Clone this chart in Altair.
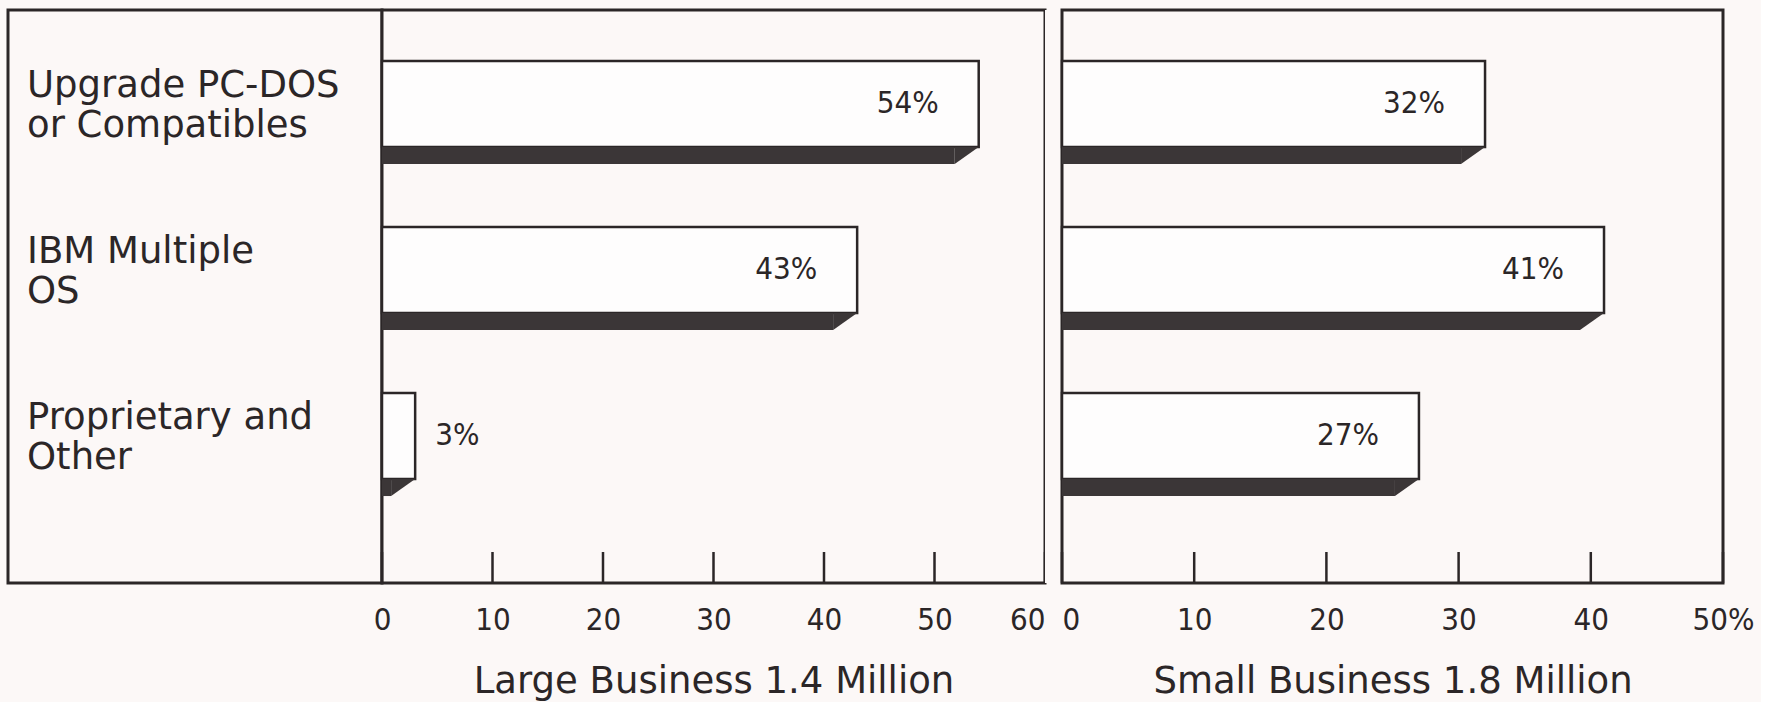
import altair as alt
import pandas as pd

# ---- data ----
categories = ["Upgrade PC-DOS\nor Compatibles", "IBM Multiple\nOS", "Proprietary and\nOther"]
large_values = [54, 43, 3]
small_values = [32, 41, 27]
large_ticks = [0, 10, 20, 30, 40, 50, 60]
small_ticks = [0, 10, 20, 30, 40, 50]
large_title = "Large Business 1.4 Million"
small_title = "Small Business 1.8 Million"

# ---- styles ----
INK = "#2b2627"
SHADE = "#3b3637"
BG = "#fcf8f7"
FACE = "#fefdfd"
TEXT_FONT = "DejaVu Sans"
NUM_FONT = "'DejaVu Sans Condensed', 'Liberation Sans Narrow', 'DejaVu Sans'"

H = 573
LABEL_W = 374
LEFT_W = 663
GAP_W = 17
RIGHT_W = 661
FACE_H = 86
SHADOW_H = 17
BEVEL = 24
FACE_OFF = -8.5
SHADOW_OFF = 43
NUM_SIZE = 31
TEXT_SIZE = 37
LINE_H = 40

df = pd.DataFrame({"cat": categories, "large": large_values, "small": small_values})

yscale = alt.Scale(type="band", domain=categories, paddingInner=0.38, paddingOuter=0.416, align=0.37)
Y = alt.Y("cat:N", scale=yscale, axis=None, sort=categories)

tri_path = "M -1 -0.708 L 1 -0.708 L -1 0.708 Z"


def panel(field, maxv, ticks, title, width, pct_at):
    base = alt.Chart(df)
    xscale = alt.Scale(domain=[0, maxv], nice=False, zero=True)
    if pct_at is None:
        label_align = {"condition": {"test": f"datum.value == {maxv}", "value": "right"}, "value": "center"}
        label_expr = "datum.label"
    else:
        label_align = {"condition": {"test": "datum.value == 0", "value": "left"}, "value": "center"}
        label_expr = f"datum.value == {pct_at} ? '{pct_at}%' : datum.label"
    axis = alt.Axis(
        values=ticks, domain=False, ticks=False, grid=False,
        labelFont=NUM_FONT, labelFontSize=NUM_SIZE, labelColor=INK, labelPadding=22,
        labelAlign=label_align, labelExpr=label_expr,
        title=title, titleFont=TEXT_FONT, titleFontSize=TEXT_SIZE, titleFontWeight="normal",
        titleColor=INK, titlePadding=28,
    )
    face = base.mark_bar(height=FACE_H, yOffset=FACE_OFF, fill=FACE, stroke=INK, strokeWidth=2.5).encode(
        x=alt.X(f"{field}:Q", scale=xscale, axis=axis),
        x2=alt.datum(0),
        y=Y,
    )
    shadow = base.mark_bar(height=SHADOW_H, yOffset=SHADOW_OFF, xOffset=-BEVEL, fill=SHADE, strokeWidth=0).encode(
        x=alt.X(f"{field}:Q", scale=xscale),
        x2=alt.datum(0),
        y=Y,
    )
    tri = base.mark_point(shape=tri_path, size=(2 * 12) ** 2, filled=True, fill=SHADE, opacity=1,
                          strokeWidth=0, xOffset=-BEVEL / 2, yOffset=SHADOW_OFF).encode(
        x=alt.X(f"{field}:Q", scale=xscale),
        y=Y,
    )
    txt_in = base.transform_filter(f"datum.{field} >= 10").transform_calculate(
        lbl=f"datum.{field} + '%'"
    ).mark_text(align="right", baseline="middle", dx=-40, yOffset=FACE_OFF, font=NUM_FONT,
                fontSize=NUM_SIZE, color=INK).encode(
        x=alt.X(f"{field}:Q", scale=xscale), y=Y, text="lbl:N"
    )
    txt_out = base.transform_filter(f"datum.{field} < 10").transform_calculate(
        lbl=f"datum.{field} + '%'"
    ).mark_text(align="left", baseline="middle", dx=20, yOffset=FACE_OFF, font=NUM_FONT,
                fontSize=NUM_SIZE, color=INK).encode(
        x=alt.X(f"{field}:Q", scale=xscale), y=Y, text="lbl:N"
    )
    tick_df = pd.DataFrame({"t": ticks})
    tick_rules = alt.Chart(tick_df).mark_rule(color=INK, strokeWidth=2.5).encode(
        x=alt.X("t:Q", scale=xscale),
        y=alt.value(H),
        y2=alt.value(H - 31),
    )
    return alt.layer(face, shadow, tri, txt_in, txt_out, tick_rules).properties(width=width, height=H)


labels = alt.Chart(df).mark_text(
    align="left", baseline="middle", lineBreak="\n", font=TEXT_FONT, fontSize=TEXT_SIZE,
    lineHeight=LINE_H, color=INK, yOffset=FACE_OFF - 18,
).encode(
    x=alt.value(19),
    y=Y,
    text="cat:N",
).properties(width=LABEL_W, height=H)

spacer = alt.Chart(df).mark_point(opacity=0, size=1).encode(
    x=alt.value(GAP_W / 2), y=alt.value(H / 2)
).properties(width=GAP_W, height=H, view=alt.ViewBackground(stroke="transparent", fill=BG))

left = panel("large", 60, large_ticks, large_title, LEFT_W, None)
right = panel("small", 50, small_ticks, small_title, RIGHT_W, 50)

chart = alt.hconcat(labels, left, spacer, right, spacing=0, bounds="flush").properties(
    padding={"left": 6, "top": 8, "right": 5, "bottom": 5},
    background=BG,
).configure_view(
    stroke=INK, strokeWidth=3, fill=BG
)

chart.save("out.html", embed_options={"renderer": "svg", "actions": False})
